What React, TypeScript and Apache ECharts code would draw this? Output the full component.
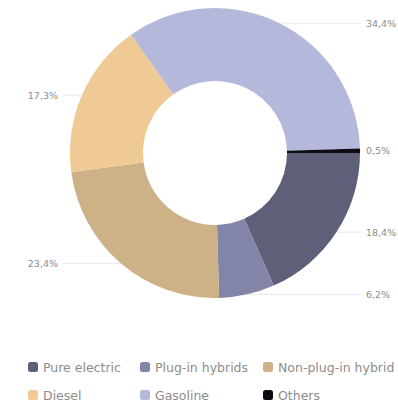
import React, { useEffect, useRef } from "react";
import * as echarts from "echarts";

const categories = ["Pure electric", "Plug-in hybrids", "Non-plug-in hybrid", "Diesel", "Gasoline", "Others"];
const shares = [18.4, 6.2, 23.4, 17.3, 34.4, 0.5];
const colors = ["#5e6079", "#8285a8", "#cdb287", "#efca94", "#b4b8da", "#0b0b12"];
const legendColumns = [
  ["Pure electric", "Diesel"],
  ["Plug-in hybrids", "Gasoline"],
  ["Non-plug-in hybrid", "Others"],
];

const CX = 215;
const CY = 153;
const R_IN = 72;
const R_OUT = 145;

export default function App() {
  const ref = useRef<HTMLDivElement>(null);
  useEffect(() => {
    document.body.style.margin = "0";
    const chart = echarts.init(ref.current!, null, { renderer: "svg" });
    const legendLefts = [28, 140, 263];
    chart.setOption({
      animation: false,
      color: colors,
      legend: legendColumns.map((col, i) => ({
        data: col,
        orient: "vertical",
        left: legendLefts[i],
        top: 360,
        padding: 0,
        itemWidth: 10,
        itemHeight: 10,
        itemGap: 14,
        icon: "roundRect",
        selectedMode: false,
        textStyle: {
          fontFamily: "DejaVu Sans",
          fontSize: 12.5,
          lineHeight: 14,
          color: "#8c8c8c",
        },
      })),
      series: [
        {
          type: "pie",
          center: [CX, CY],
          radius: [R_IN, R_OUT],
          startAngle: 0,
          clockwise: true,
          silent: true,
          avoidLabelOverlap: false,
          data: categories.map((name, i) => ({ name, value: shares[i] })),
          label: {
            show: true,
            position: "outside",
            fontFamily: "DejaVu Sans",
            fontSize: 9.5,
            color: "#8c8c8c",
            overflow: "none",
            formatter: (p: any) => p.value.toFixed(1).replace(".", ",") + "%",
          },
          labelLine: {
            show: true,
            length: 0,
            length2: 8,
            lineStyle: { color: "#e8e8e8", width: 1 },
          },
          labelLayout: (p: any) => {
            const pts = p.labelLinePoints;
            const rect = p.labelRect;
            const isLeft = rect.x + rect.width / 2 < CX;
            const y0 = pts ? pts[0][1] : rect.y + rect.height / 2;
            const x0 = pts ? pts[0][0] : CX;
            const tx = isLeft ? CX - 157 : CX + 151;
            const lineEnd = isLeft ? tx + 5 : tx - 5;
            return {
              x: tx,
              y: y0,
              align: isLeft ? "right" : "left",
              verticalAlign: "middle",
              labelLinePoints: [
                [x0, y0],
                [x0, y0],
                [lineEnd, y0],
              ],
            };
          },
        },
      ],
    });
    return () => chart.dispose();
  }, []);
  return (
    <div
      ref={ref}
      style={{ position: "fixed", left: 0, top: 0, width: 398, height: 410, background: "#fff" }}
    />
  );
}
